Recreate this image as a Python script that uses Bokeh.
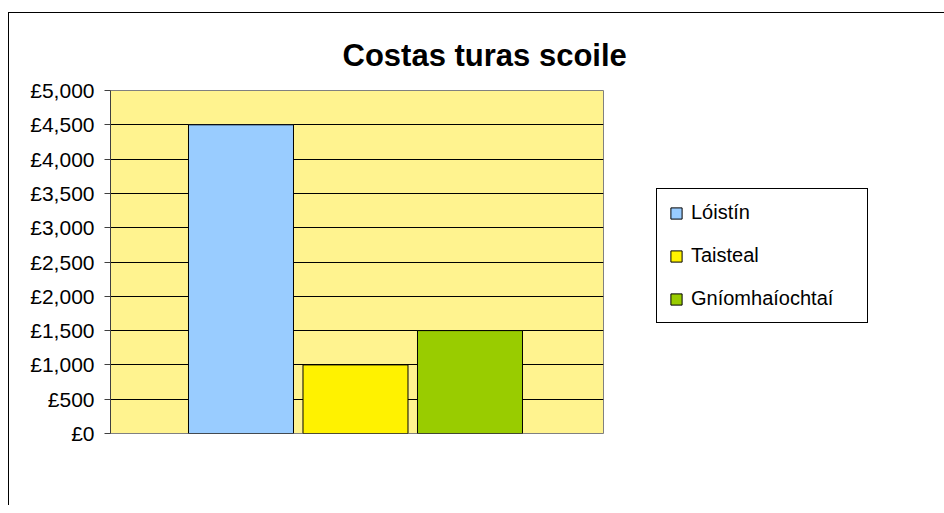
from bokeh.plotting import figure
from bokeh.models import ColumnDataSource, Range1d, FixedTicker, Title, Legend, LegendItem
from bokeh.embed import file_html
from bokeh.resources import INLINE

# ---- data ----
title_text = "Costas turas scoile"
categories = ["Lóistín", "Taisteal", "Gníomhaíochtaí"]
costs = [4500, 1000, 1500]
bar_colors = ["#99CCFF", "#FFF200", "#99CC00"]
y_ticks = [0, 500, 1000, 1500, 2000, 2500, 3000, 3500, 4000, 4500, 5000]
y_tick_labels = ["£0", "£500", "£1,000", "£1,500", "£2,000", "£2,500",
                 "£3,000", "£3,500", "£4,000", "£4,500", "£5,000"]

FONT = "Liberation Sans"

source = ColumnDataSource(dict(
    x=list(range(len(categories))),
    top=costs,
    color=bar_colors,
    category=categories,
))

p = figure(
    frame_width=493, frame_height=343,
    min_border_left=101, min_border_right=333,
    min_border_top=77, min_border_bottom=72,
    x_range=Range1d(-1.1397, 3.166), y_range=Range1d(0, 5000),
    output_backend="svg", toolbar_location=None, tools="",
)
p.margin = (12, 0, 0, 8)
p.styles = {"border-left": "1px solid black", "border-top": "1px solid black"}

p.background_fill_color = "#FFF38F"
p.border_fill_color = "white"
p.outline_line_color = "#808080"
p.outline_line_width = 1

r = p.vbar(x="x", top="top", bottom=0, width=0.917, source=source,
           fill_color="color", line_color="black", line_width=1)

p.xaxis.visible = False
p.xgrid.grid_line_color = None
p.ygrid.grid_line_color = "black"
p.ygrid.grid_line_width = 1

ax = p.yaxis[0]
ax.ticker = FixedTicker(ticks=y_ticks)
ax.major_label_overrides = {t: lab for t, lab in zip(y_ticks, y_tick_labels)}
ax.axis_line_color = "#404040"
ax.major_tick_line_color = "#404040"
ax.major_tick_out = 6
ax.major_tick_in = 0
ax.minor_tick_line_color = None
ax.major_label_text_font = FONT
ax.major_label_text_font_size = "21px"
ax.major_label_text_color = "black"
ax.major_label_standoff = 10

title = Title(text=title_text, text_font=FONT, text_font_size="31px",
              text_font_style="bold", text_color="black",
              align="left", offset=232, standoff=35)
p.add_layout(title, "above")

items = [LegendItem(label=c, renderers=[r], index=i) for i, c in enumerate(categories)]
legend = Legend(items=items, location=(53, 110),
                label_text_font=FONT, label_text_font_size="20px",
                label_text_color="black", label_width=164,
                glyph_width=14, glyph_height=14, spacing=20, padding=12,
                margin=0, label_standoff=8,
                border_line_color="black", border_line_width=1,
                border_line_alpha=1,
                background_fill_color="white", background_fill_alpha=1)
p.add_layout(legend, "right")

open("out.html", "w").write(file_html(p, INLINE))
